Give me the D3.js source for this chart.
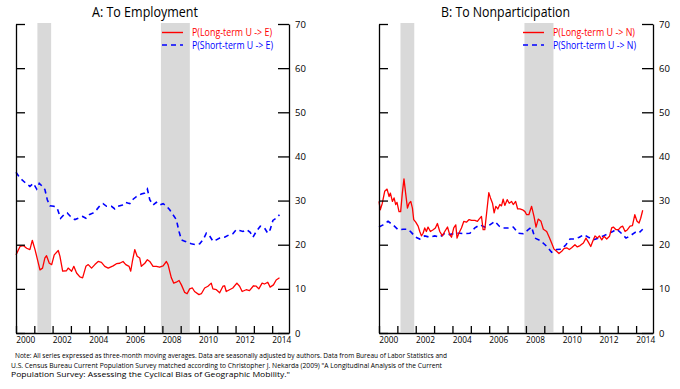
<!DOCTYPE html>
<html><head><meta charset="utf-8">
<script src="https://cdn.jsdelivr.net/npm/d3@7/dist/d3.min.js"></script>
<style>
body{margin:0;background:#fff;}
svg{display:block;}
text{font-family:"Open Sans","Liberation Sans",sans-serif;}
</style></head>
<body>
<svg id="chart" width="680" height="389"></svg>
<script>
// ---- data (decimal years, percent) ----
const recessions = [[2001.17, 2001.92], [2007.92, 2009.5]];
const yTicks = [0, 10, 20, 30, 40, 50, 60, 70];
const labelYears = [2000, 2002, 2004, 2006, 2008, 2010, 2012, 2014];

const ltueX = [2000.0,2000.22,2000.4,2000.58,2000.76,2000.89,2001.04,2001.31,2001.45,2001.58,2001.67,2001.82,2001.95,2002.09,2002.31,2002.4,2002.55,2002.76,2002.85,2003.04,2003.16,2003.31,2003.49,2003.64,2003.82,2003.95,2004.13,2004.31,2004.49,2004.67,2004.85,2005.04,2005.31,2005.49,2005.67,2005.85,2006.0,2006.18,2006.27,2006.36,2006.49,2006.62,2006.76,2006.85,2007.04,2007.18,2007.31,2007.49,2007.67,2007.85,2008.04,2008.22,2008.31,2008.49,2008.62,2008.76,2008.91,2009.04,2009.22,2009.35,2009.49,2009.64,2009.76,2010.0,2010.13,2010.31,2010.49,2010.67,2010.76,2010.95,2011.13,2011.31,2011.4,2011.49,2011.67,2011.85,2012.07,2012.22,2012.36,2012.58,2012.76,2012.98,2013.13,2013.27,2013.45,2013.58,2013.76,2013.89,2014.07,2014.22,2014.4];
const ltueV = [17.7,19.6,19.8,19.2,18.9,21.0,18.9,14.3,14.7,17.0,17.5,15.8,15.5,17.7,18.7,17.4,14.0,14.1,14.7,14.0,15.1,13.6,12.7,12.5,15.1,15.5,14.7,15.5,16.2,16.0,15.1,14.7,15.2,15.7,15.8,16.2,15.5,15.1,14.0,16.2,18.9,17.4,17.0,15.1,15.8,16.6,16.2,15.1,15.1,14.9,15.2,16.2,15.5,12.5,11.3,11.5,11.9,10.9,9.2,8.9,10.0,10.2,9.4,8.7,8.9,10.2,10.6,11.3,10.0,9.8,9.1,10.6,10.7,9.4,9.8,10.2,11.3,10.6,9.4,9.8,9.6,10.7,10.6,10.0,11.3,11.1,11.5,10.4,10.9,12.0,12.5];

const stueX = [2000.0,2000.22,2000.49,2000.76,2000.95,2001.13,2001.27,2001.45,2001.58,2001.71,2001.85,2002.07,2002.25,2002.44,2002.62,2002.8,2002.98,2003.22,2003.4,2003.64,2003.82,2004.0,2004.22,2004.4,2004.58,2004.76,2004.95,2005.22,2005.4,2005.58,2005.82,2006.0,2006.22,2006.4,2006.58,2006.85,2007.04,2007.18,2007.31,2007.49,2007.67,2007.85,2008.04,2008.22,2008.4,2008.58,2008.76,2008.91,2009.04,2009.22,2009.4,2009.58,2009.85,2010.04,2010.25,2010.4,2010.58,2010.76,2010.95,2011.13,2011.4,2011.67,2011.85,2012.04,2012.22,2012.4,2012.62,2012.8,2012.95,2013.13,2013.35,2013.58,2013.76,2013.89,2014.04,2014.22,2014.4];
const stueV = [36.4,35.1,34.1,33.2,33.9,32.6,33.9,33.2,32.5,30.2,28.8,28.7,28.3,26.0,26.8,27.2,26.4,25.7,26.0,26.4,26.0,26.8,27.2,27.9,28.8,29.3,28.7,28.7,28.1,28.7,29.0,29.6,29.3,30.3,30.9,31.5,31.7,32.6,30.2,29.0,29.6,29.0,29.3,28.8,27.9,26.8,25.7,23.0,21.1,20.8,20.5,20.2,20.0,20.2,21.3,22.6,22.0,20.8,21.1,21.5,21.7,22.3,22.5,23.4,23.2,23.0,23.4,22.8,21.7,23.0,24.2,23.8,22.6,23.4,25.5,26.0,26.8];

const ltunX = [2000.0,2000.07,2000.18,2000.31,2000.44,2000.55,2000.62,2000.73,2000.82,2000.91,2000.98,2001.09,2001.18,2001.27,2001.36,2001.45,2001.55,2001.64,2001.73,2001.82,2001.89,2002.0,2002.13,2002.22,2002.31,2002.4,2002.49,2002.58,2002.67,2002.8,2002.95,2003.07,2003.18,2003.31,2003.45,2003.58,2003.73,2003.85,2003.95,2004.07,2004.18,2004.25,2004.35,2004.49,2004.62,2004.76,2004.91,2005.04,2005.22,2005.36,2005.45,2005.58,2005.67,2005.76,2005.85,2005.98,2006.07,2006.18,2006.27,2006.36,2006.47,2006.58,2006.67,2006.76,2006.85,2006.98,2007.09,2007.22,2007.31,2007.44,2007.55,2007.67,2007.82,2007.95,2008.04,2008.16,2008.31,2008.44,2008.55,2008.67,2008.82,2008.95,2009.13,2009.27,2009.4,2009.53,2009.67,2009.8,2009.95,2010.07,2010.22,2010.36,2010.49,2010.67,2010.8,2010.95,2011.13,2011.27,2011.4,2011.53,2011.64,2011.76,2011.89,2012.0,2012.13,2012.25,2012.4,2012.55,2012.67,2012.76,2012.91,2013.04,2013.16,2013.27,2013.4,2013.53,2013.67,2013.8,2013.93,2014.05,2014.16,2014.25,2014.36];
const ltunV = [29.8,27.9,29.4,32.1,32.6,30.9,31.7,29.8,30.6,29.1,29.6,27.5,27.5,31.7,34.9,31.7,28.3,29.4,29.8,28.3,25.7,25.1,24.2,23.0,22.0,22.6,23.8,23.0,24.0,23.0,23.4,23.8,24.8,23.0,22.0,23.0,24.0,22.3,21.7,23.8,24.5,21.5,22.6,23.8,25.3,25.1,25.7,25.5,25.5,25.3,25.8,26.4,23.4,23.4,26.8,31.8,30.6,29.4,27.2,28.7,28.1,29.1,28.8,30.3,28.9,30.2,29.4,29.8,29.1,29.8,28.1,28.1,27.9,27.5,26.8,26.8,28.7,26.4,24.0,25.8,25.3,23.5,23.0,21.7,20.4,19.0,18.5,18.0,18.5,19.1,19.3,18.9,19.3,20.0,19.5,19.8,20.4,21.5,20.6,19.6,20.8,22.0,21.5,22.0,21.1,21.9,21.3,21.9,23.8,24.0,23.4,23.4,24.0,24.2,23.0,23.4,24.2,24.3,26.8,25.3,24.9,26.0,27.8];

const stunX = [2000.0,2000.22,2000.49,2000.76,2001.04,2001.31,2001.58,2001.76,2002.0,2002.22,2002.49,2002.76,2003.04,2003.31,2003.58,2003.85,2004.13,2004.4,2004.67,2004.95,2005.22,2005.49,2005.76,2006.04,2006.31,2006.55,2006.76,2007.04,2007.31,2007.58,2007.85,2008.13,2008.31,2008.49,2008.76,2009.04,2009.22,2009.4,2009.67,2009.95,2010.18,2010.4,2010.67,2010.91,2011.16,2011.4,2011.67,2011.95,2012.22,2012.49,2012.73,2012.95,2013.22,2013.45,2013.67,2013.95,2014.13,2014.36];
const stunV = [24.0,24.5,25.3,24.5,23.4,23.5,23.5,22.8,21.7,21.3,22.0,21.7,22.0,21.7,22.6,22.3,22.6,22.6,22.5,22.6,23.8,24.5,24.0,24.5,25.3,24.2,23.8,23.8,24.0,22.6,22.5,23.4,24.0,21.5,21.0,20.0,19.2,18.3,18.9,19.0,20.0,21.3,21.3,21.7,22.3,21.7,21.1,21.5,22.0,22.5,23.0,23.5,22.5,21.5,22.0,22.8,22.6,23.5];

const panels = [
  {title:"A: To Employment", left:16, right:289, titleX:145, titleW:106,
   longX:ltueX, longV:ltueV, shortX:stueX, shortV:stueV,
   longLabel:"P(Long-term U -> E)", shortLabel:"P(Short-term U -> E)", legX:162, legW:[80, 81]},
  {title:"B: To Nonparticipation", left:379, right:653, titleX:505.5, titleW:129,
   longX:ltunX, longV:ltunV, shortX:stunX, shortV:stunV,
   longLabel:"P(Long-term U -> N)", shortLabel:"P(Short-term U -> N)", legX:523, legW:[82, 83]}
];

const svg = d3.select("#chart");
const plotTop = 24, plotBottom = 333;
const RED = "#ff0000", BLUE = "#0000ff";
const FONT = '"Open Sans","Liberation Sans",sans-serif';

panels.forEach(p => {
  const x = d3.scaleLinear().domain([2000, 2014.92]).range([p.left, p.right]);
  const y = d3.scaleLinear().domain([0, 70]).range([plotBottom, plotTop]);
  const g = svg.append("g");

  // recession shading
  g.selectAll("rect.rec").data(recessions).enter().append("rect").attr("class", "rec")
    .attr("x", d => x(d[0])).attr("width", d => x(d[1]) - x(d[0]))
    .attr("y", plotTop - 1).attr("height", plotBottom - plotTop)
    .attr("fill", "#d9d9d9");

  // lines
  const line = d3.line().x(d => x(d[0])).y(d => y(d[1]));
  const longPts = p.longX.map((v, i) => [v, p.longV[i]]);
  const shortPts = p.shortX.map((v, i) => [v, p.shortV[i]]);
  g.append("path").datum(shortPts).attr("d", line)
    .attr("fill", "none").attr("stroke", BLUE).attr("stroke-width", 1.6)
    .attr("stroke-dasharray", "5,4");
  g.append("path").datum(longPts).attr("d", line)
    .attr("fill", "none").attr("stroke", RED).attr("stroke-width", 1.3)
    .attr("stroke-linejoin", "round");

  // axes
  const axL = g.append("g").attr("transform", `translate(${p.left},0)`)
    .call(d3.axisLeft(y).tickValues(yTicks).tickSizeInner(-9).tickSizeOuter(0).tickFormat(() => ""));
  const axR = g.append("g").attr("transform", `translate(${p.right},0)`)
    .call(d3.axisRight(y).tickValues(yTicks).tickSizeInner(-11).tickSizeOuter(0).tickPadding(6));
  const axB = g.append("g").attr("transform", `translate(0,${plotBottom})`)
    .call(d3.axisBottom(x).tickValues(d3.range(2000, 2015)).tickSizeInner(-7).tickSizeOuter(0).tickFormat(() => ""));
  const axBL = g.append("g").attr("transform", `translate(0,${plotBottom})`)
    .call(d3.axisBottom(x).tickValues(labelYears.map(v => v + 0.5)).tickSize(0).tickPadding(3)
      .tickFormat(d => String(Math.floor(d))));
  axBL.select(".domain").remove();
  axL.selectAll("text").remove();
  axB.selectAll("text").remove();
  [axL, axR, axB].forEach(a => {
    a.selectAll("path,line").attr("stroke", "#000").attr("stroke-width", 1.3);
  });
  axR.selectAll("text").attr("font-size", 9.5).attr("fill", "#000").attr("font-family", FONT);
  axBL.selectAll("text").attr("font-size", 9.5).attr("fill", "#000").attr("font-family", FONT)
    .attr("textLength", 19).attr("lengthAdjust", "spacingAndGlyphs");

  // title
  g.append("text").attr("x", p.titleX).attr("y", 17).attr("text-anchor", "middle")
    .attr("font-size", 14).attr("fill", "#000")
    .attr("textLength", p.titleW).attr("lengthAdjust", "spacingAndGlyphs").text(p.title);

  // legend
  const leg = [[p.longLabel, RED, null, 32.5, p.legW[0]], [p.shortLabel, BLUE, "5,4", 45, p.legW[1]]];
  leg.forEach(([lab, col, dash, ly, w]) => {
    g.append("line").attr("x1", p.legX).attr("x2", p.legX + 21).attr("y1", ly).attr("y2", ly)
      .attr("stroke", col).attr("stroke-width", 1.4).attr("stroke-dasharray", dash);
    g.append("text").attr("x", p.legX + 30).attr("y", ly + 3.5).attr("font-size", 10.5)
      .attr("fill", col).attr("textLength", w).attr("lengthAdjust", "spacingAndGlyphs").text(lab);
  });
});

// notes
const notes = [
  ["Note:  All series expressed as three-month moving averages. Data are seasonally adjusted by authors. Data from Bureau of Labor Statistics and", 15, 358, 432],
  ["U.S. Census Bureau Current Population Survey matched according to Christopher J. Nekarda (2009) \"A Longitudinal Analysis of the Current", 11, 367.5, 431],
  ["Population Survey: Assessing the Cyclical Bias of Geographic Mobility.\"", 11, 377, 279]
];
notes.forEach(([t, nx, ny, w]) => {
  svg.append("text").attr("x", nx).attr("y", ny).attr("font-size", 8).attr("fill", "#000")
    .attr("font-family", '"Liberation Sans",Arial,sans-serif')
    .attr("textLength", w).attr("lengthAdjust", "spacingAndGlyphs").text(t);
});
</script>
</body></html>
